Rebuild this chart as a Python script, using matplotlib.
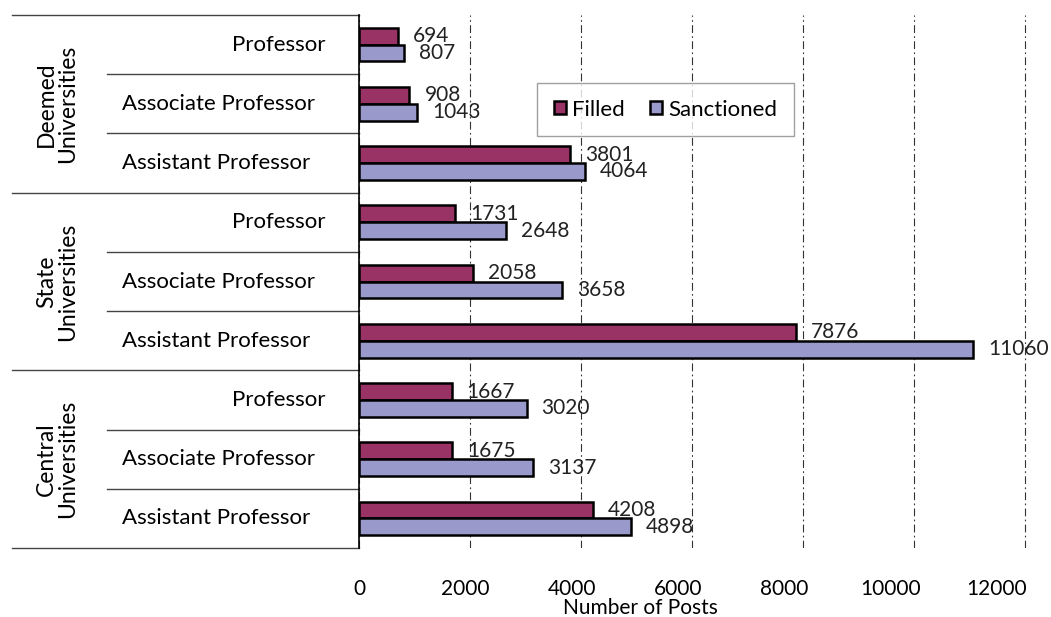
import matplotlib
matplotlib.use("Agg")
import matplotlib.pyplot as plt
from matplotlib.transforms import blended_transform_factory, ScaledTranslation
import numpy as np

plt.rcParams['font.family'] = ['Lato', 'DejaVu Sans']

groups = ['Deemed\nUniversities', 'State\nUniversities', 'Central\nUniversities']
posts = ['Professor', 'Associate Professor', 'Assistant Professor']
filled = [694, 908, 3801, 1731, 2058, 7876, 1667, 1675, 4208]
sanctioned = [807, 1043, 4064, 2648, 3658, 11060, 3020, 3137, 4898]
xticks = [0, 2000, 4000, 6000, 8000, 10000, 12000]

c_filled = '#993366'
c_sanc = '#9999cc'
W, H = 1051, 617

fig = plt.figure(figsize=(W/100, H/100), dpi=100)
# axes runs 2 px past the 12000 line so the last grid line is not clipped
ax = fig.add_axes([359/W, 1-548/H, (1027-359)/W, (548-15)/H])

y = np.arange(len(filled))
bh = 0.285
ax.barh(y - bh/2, filled, height=bh, color=c_filled, edgecolor='black', lw=1.8, label='Filled', zorder=3)
ax.barh(y + bh/2, sanctioned, height=bh, color=c_sanc, edgecolor='black', lw=1.8, label='Sanctioned', zorder=3)

for i in range(len(filled)):
    ax.annotate(str(filled[i]), (filled[i], y[i] - bh/2), xytext=(15, 0), textcoords='offset pixels',
                va='center', ha='left', fontsize=15, color='#222222', zorder=4)
    ax.annotate(str(sanctioned[i]), (sanctioned[i], y[i] + bh/2), xytext=(15, 0), textcoords='offset pixels',
                va='center', ha='left', fontsize=15, color='#222222', zorder=4)

ax.set_xlim(0, 12000 * 668 / 666)
ax.set_ylim(8.5, -0.5)
ax.set_xticks(xticks)
ax.set_xticklabels([str(t) for t in xticks], fontsize=15)
ax.tick_params(axis='x', length=0, pad=22)
# the original's tick labels drift left a little at each step
for i, lab in enumerate(ax.get_xticklabels()):
    lab.set_transform(lab.get_transform() + ScaledTranslation(-4.7*i/100, 0, fig.dpi_scale_trans))
ax.set_yticks([])
for s in ['top', 'right', 'bottom']:
    ax.spines[s].set_visible(False)
ax.spines['left'].set_linewidth(1.2)
ax.xaxis.grid(True, color='#333333', lw=0.8, linestyle=(0, (7, 3, 1.5, 3)), zorder=0)
fig.text(640/W, 1-608/H, 'Number of Posts', ha='center', va='center', fontsize=15)

# category labels and separators
tr = blended_transform_factory(fig.transFigure, ax.transData)
for i in range(len(filled)):
    p = posts[i % 3]
    if p == 'Professor':
        ax.text(325/W, i, p, transform=tr, ha='right', va='center', fontsize=16)
    else:
        ax.text(122/W, i, p, transform=tr, ha='left', va='center', fontsize=16)
for g in range(3):
    ax.text(57/W, 3*g + 1, groups[g], transform=tr, rotation=90, ha='center', va='center',
            fontsize=16.5, linespacing=1.0)
for b in np.arange(-0.5, 9, 1.0):
    x0 = 12 if (b + 0.5) % 3 == 0 else 107
    ax.plot([x0/W, 359/W], [b, b], transform=tr, color='#444444', lw=1.0, clip_on=False)

leg = ax.legend(loc='center', bbox_to_anchor=(535/W, 1-136/H, 261/W, 53/H), bbox_transform=fig.transFigure,
                ncol=2, fontsize=16, frameon=True, fancybox=False, handlelength=0.55, handleheight=0.55,
                handletextpad=0.3, columnspacing=1.1, borderpad=0.75)
leg.get_frame().set_edgecolor('#888888')
leg.get_frame().set_linewidth(1.0)

fig.savefig('out.png', dpi=100)
